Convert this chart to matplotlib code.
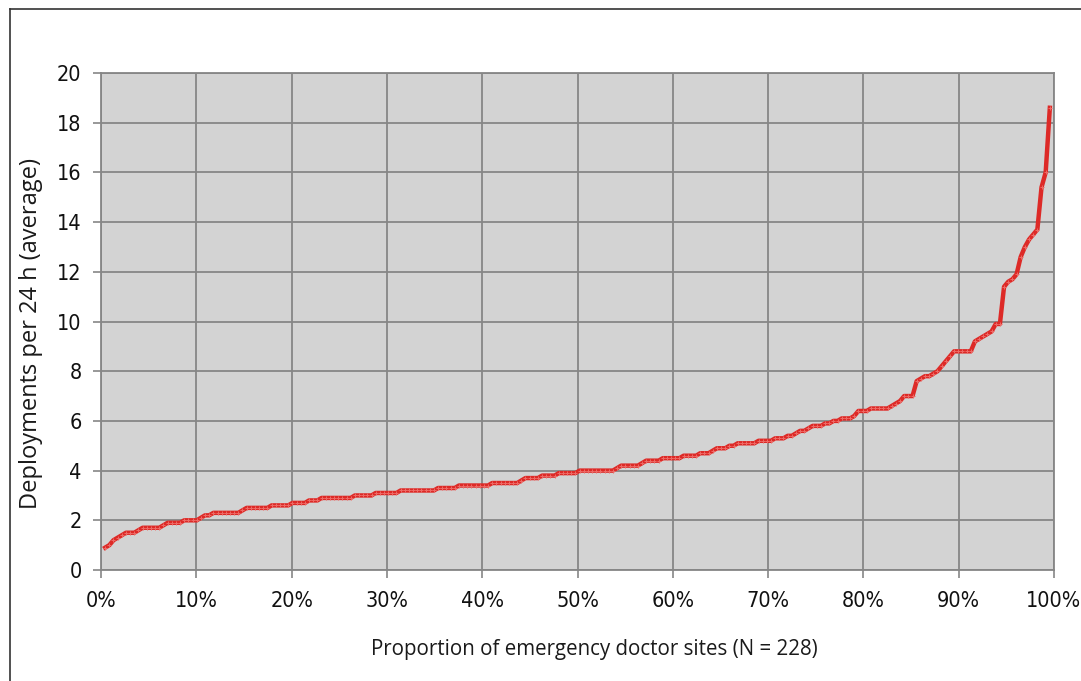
import matplotlib
matplotlib.use("Agg")
import matplotlib.pyplot as plt
import numpy as np
from matplotlib import font_manager
from matplotlib.lines import Line2D
from matplotlib.ticker import FuncFormatter

# average deployments per 24 h, grouped as (value, number of sites)
levels = [0.9, 1.0, 1.2, 1.3, 1.4, 1.5, 1.6, 1.7, 1.8, 1.9,
          2.0, 2.1, 2.2, 2.3, 2.4, 2.5, 2.6, 2.7, 2.8, 2.9,
          3.0, 3.1, 3.2, 3.3, 3.4, 3.5, 3.6, 3.7, 3.8, 3.9,
          4.0, 4.1, 4.2, 4.3, 4.4, 4.5, 4.6, 4.7, 4.8, 4.9,
          5.0, 5.1, 5.2, 5.3, 5.4, 5.5, 5.6, 5.7, 5.8, 5.9,
          6.0, 6.1, 6.2, 6.4, 6.5, 6.6, 6.7, 6.8, 7.0, 7.6,
          7.7, 7.8, 7.9, 8.0, 8.2, 8.4, 8.6, 8.8, 9.2, 9.3,
          9.4, 9.5, 9.6, 9.9, 11.4, 11.6, 11.7, 11.9, 12.6, 13.0,
          13.3, 13.5, 13.7, 15.4, 16.0, 18.6]
counts = [1, 1, 1, 1, 1, 3, 1, 5, 1, 4,
          4, 1, 2, 7, 1, 6, 5, 4, 3, 8,
          5, 6, 9, 5, 8, 7, 1, 4, 4, 5,
          9, 1, 5, 1, 4, 5, 4, 3, 1, 3,
          2, 5, 4, 3, 2, 1, 2, 1, 3, 2,
          2, 3, 1, 3, 5, 1, 1, 1, 3, 1,
          1, 2, 1, 1, 1, 1, 1, 5, 1, 1,
          1, 1, 1, 2, 1, 1, 1, 1, 1, 1,
          1, 1, 1, 1, 1, 1]
n_sites = 228

x_ticks = [0, 0.1, 0.2, 0.3, 0.4, 0.5, 0.6, 0.7, 0.8, 0.9, 1.0]
y_ticks = [0, 2, 4, 6, 8, 10, 12, 14, 16, 18, 20]

deployments = np.repeat(levels, counts)
proportion = np.arange(1, len(deployments) + 1) / (n_sites + 1)

installed = {f.name for f in font_manager.fontManager.ttflist}
label_font = "Open Sans" if "Open Sans" in installed else "DejaVu Sans"

fig = plt.figure(figsize=(10.81, 6.81), dpi=100)
ax = fig.add_axes([101 / 1081, 111 / 681, 953 / 1081, 497 / 681])
ax.set_facecolor("#d3d3d3")

ax.plot(proportion, deployments, color="#dd2a27", lw=3.2,
        marker="+", markersize=3, markeredgewidth=0.7,
        markeredgecolor="#ee6a66", zorder=3)

ax.set_xlim(0, 1)
ax.set_ylim(0, 20)
ax.set_xticks(x_ticks)
ax.set_yticks(y_ticks)
ax.xaxis.set_major_formatter(FuncFormatter(lambda v, p: "{:.0f}%".format(v * 100)))
ax.grid(True, color="#868686", lw=1.3)
ax.set_axisbelow(True)
for s in ax.spines.values():
    s.set_color("#868686")
    s.set_linewidth(1.3)
ax.tick_params(axis="both", colors="#868686", length=6, width=1.2,
               labelcolor="#111111", labelsize=15.5)
ax.tick_params(axis="y", pad=8)
ax.tick_params(axis="x", pad=9)
for lab in ax.get_xticklabels() + ax.get_yticklabels():
    lab.set_fontfamily("DejaVu Sans")
    lab.set_fontstretch("condensed")

ax.set_xlabel("Proportion of emergency doctor sites (N = 228)",
              fontfamily=label_font, fontsize=14.8, color="#1a1a1a", labelpad=20)
ax.xaxis.label.set_x(0.518)
ax.set_ylabel("Deployments per 24 h (average)",
              fontfamily=label_font, fontsize=17, color="#1a1a1a", labelpad=10)
ax.yaxis.label.set_y(0.475)

# frame of the original figure panel (left and top edges)
fig.add_artist(Line2D([10 / 1081, 10 / 1081], [0, 1 - 9 / 681],
                      transform=fig.transFigure, color="#333333", lw=1.2))
fig.add_artist(Line2D([10 / 1081, 1], [1 - 9 / 681, 1 - 9 / 681],
                      transform=fig.transFigure, color="#333333", lw=1.2))

fig.savefig("out.png", dpi=100)
